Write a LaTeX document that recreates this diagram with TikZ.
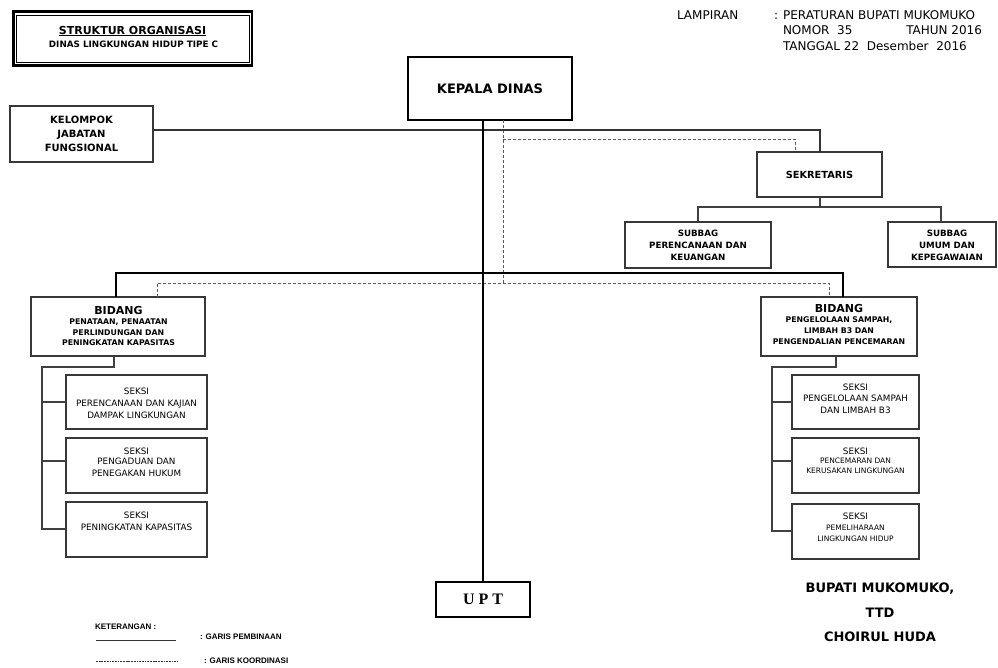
\documentclass[tikz,border=0pt]{standalone}
\usepackage{fontspec}
\setmainfont{DejaVu Sans}
\newfontfamily\serifb{Liberation Serif}
\newfontfamily\arialf{Liberation Sans}
\newcommand\myfs[2]{\fontsize{#1}{#2}\selectfont}
\begin{document}
\begin{tikzpicture}[x=1pt,y=-1pt,
  box/.style={draw=black!78, line width=1.1pt, inner sep=0pt, outer sep=0pt, anchor=north west, align=center},
  txt/.style={inner sep=0pt, outer sep=0pt, align=center},
  thickl/.style={line width=2.8pt, black},
  midl/.style={line width=1.5pt, black!80},
  thinl/.style={line width=1.1pt, black!75},
  dashl/.style={line width=0.8pt, black!65, dash pattern=on 3pt off 2pt},
  legf/.style={txt, anchor=west, font=\arialf\bfseries\myfs{8}{9}},
  lampf/.style={txt, font=\myfs{12}{14}},
  sks/.style={txt, font=\myfs{8.8}{12}}
]
\useasboundingbox (0,0) rectangle (998,667);

% title
\node[box, draw=black, line width=2.8pt, minimum width=238.7pt, minimum height=53.8pt] (tbox) at (13.3,11.7) {};
\draw[line width=0.8pt] ([xshift=3.1pt,yshift=-3.2pt]tbox.north west) rectangle ([xshift=-3.1pt,yshift=3.1pt]tbox.south east);
\node[txt, font=\myfs{11}{13}\bfseries] (ttl) at (132.5,31) {\underline{STRUKTUR ORGANISASI}};
\node[txt, font=\myfs{8.8}{10}\bfseries] (tsub) at (133.5,44) {DINAS LINGKUNGAN HIDUP TIPE C};

% lampiran
\node[lampf, anchor=west] (lamp) at (677,15) {LAMPIRAN};
\node[lampf, anchor=west] (lp1) at (774,15) {: PERATURAN BUPATI MUKOMUKO};
\node[lampf, anchor=west] (lp2) at (783,30) {NOMOR\ \ 35};
\node[lampf, anchor=east] (lp3) at (982,30) {TAHUN 2016};
\node[lampf, anchor=west] (lp4) at (783,46) {TANGGAL 22\ \ Desember\ \ 2016};

% boxes
\node[box, draw=black, line width=1.8pt, minimum width=164pt, minimum height=63pt, font=\myfs{13}{15}\bfseries] (kd) at (408,57) {KEPALA DINAS};
\node[box, minimum width=143pt, minimum height=56pt, font=\myfs{10}{14}\bfseries] (kjf) at (10,106) {KELOMPOK\\JABATAN\\FUNGSIONAL};
\node[box, minimum width=125pt, minimum height=45pt, font=\myfs{9.8}{12}\bfseries] (sek) at (757,152) {SEKRETARIS};
\node[box, minimum width=146pt, minimum height=46pt, font=\myfs{8.7}{12}\bfseries] (sp) at (625,222) {SUBBAG\\PERENCANAAN DAN\\KEUANGAN};
\node[box, minimum width=108pt, minimum height=45pt] (su) at (888,222) {};
\node[txt, font=\myfs{8.7}{12}\bfseries] (sut) at (947,245) {SUBBAG\\UMUM DAN\\KEPEGAWAIAN};

\node[box, minimum width=174pt, minimum height=59pt] (bl) at (31,297) {};
\node[txt, font=\myfs{11}{13}\bfseries] (blt) at (118.5,310) {BIDANG};
\node[txt, font=\myfs{7.8}{10.5}\bfseries] (bls) at (118.5,332.5) {PENATAAN, PENAATAN\\PERLINDUNGAN DAN\\PENINGKATAN KAPASITAS};

\node[box, minimum width=156pt, minimum height=59pt] (br) at (761,297) {};
\node[txt, font=\myfs{11}{13}\bfseries] (brt) at (839,308) {BIDANG};
\node[txt, font=\myfs{7.8}{11}\bfseries] (brs) at (839,331) {PENGELOLAAN SAMPAH,\\LIMBAH B3 DAN\\PENGENDALIAN PENCEMARAN};

% seksi left
\node[box, minimum width=141pt, minimum height=54pt] (sk1) at (66,375) {};
\node[sks] (sk1t) at (136.5,391) {SEKSI};
\node[sks] (sk1b) at (136.5,409) {PERENCANAAN DAN KAJIAN\\DAMPAK LINGKUNGAN};
\node[box, minimum width=141pt, minimum height=55pt] (sk2) at (66,438) {};
\node[sks] (sk2t) at (136.5,451) {SEKSI};
\node[sks, font=\myfs{8.8}{11.5}] (sk2b) at (136.5,467.5) {PENGADUAN DAN\\PENEGAKAN HUKUM};
\node[box, minimum width=141pt, minimum height=55pt] (sk3) at (66,502) {};
\node[sks] (sk3t) at (136.5,515) {SEKSI};
\node[sks] (sk3b) at (136.5,527) {PENINGKATAN KAPASITAS};

% seksi right
\node[box, minimum width=127pt, minimum height=54pt] (sr1) at (792,375) {};
\node[sks] (sr1t) at (855.5,387) {SEKSI};
\node[sks] (sr1b) at (855.5,404.7) {PENGELOLAAN SAMPAH\\DAN LIMBAH B3};
\node[box, minimum width=127pt, minimum height=55pt] (sr2) at (792,438) {};
\node[sks] (sr2t) at (855.5,451) {SEKSI};
\node[sks, font=\myfs{7.5}{10}] (sr2b) at (855.5,466) {PENCEMARAN DAN\\KERUSAKAN LINGKUNGAN};
\node[box, minimum width=127pt, minimum height=55pt] (sr3) at (792,504) {};
\node[sks] (sr3t) at (855.5,516) {SEKSI};
\node[sks, font=\myfs{7.5}{11}] (sr3b) at (855.5,533.5) {PEMELIHARAAN\\LINGKUNGAN HIDUP};

% UPT
\node[box, draw=black, line width=1.8pt, minimum width=94pt, minimum height=35pt, font=\serifb\bfseries\myfs{16}{18}] (upt) at (436,582) {U\ P\ T};

% signature
\node[txt, font=\myfs{13}{24.5}\bfseries] (bpt) at (880,612.5) {BUPATI MUKOMUKO,\\TTD\\CHOIRUL HUDA};

% coordinates
\coordinate (jk) at (820,130);
\coordinate (dA) at (503,139);
\coordinate (dB) at (503,283);
\coordinate (dS) at (795,139);
\coordinate (dl) at (157,283);
\coordinate (dr) at (829,283);
\coordinate (tl) at (116,273);
\coordinate (tr) at (843,273);
\coordinate (sj) at (820,207);
\coordinate (sx) at (941,207);
\coordinate (la) at (114,367);
\coordinate (lc) at (42,367);
\coordinate (ld) at (42,529);
\coordinate (lx1) at (42,402);
\coordinate (lx2) at (42,461);
\coordinate (ra) at (836,367);
\coordinate (rc) at (772,367);
\coordinate (rd) at (772,531);
\coordinate (rx1) at (772,402);
\coordinate (rx2) at (772,461);

% garis koordinasi
\draw[dashl] (kd.south -| dA) -- (dB);
\draw[dashl] (dA) -- (dS) -- (sek.north -| dS);
\draw[dashl] (bl.north -| dl) -- (dl) -- (dr) -- (br.north -| dr);

% garis pembinaan
\draw[midl] ([yshift=4pt]kjf.east) -- (jk) -- (sek.north -| jk);
\draw[thickl] (upt.north) -- (upt.north |- kd.south);
\draw[thickl] (bl.north -| tl) -- (tl) -- (tr) -- (br.north -| tr);
\draw[thinl] (sek.south -| sj) -- (sj);
\draw[thinl] (sp.north) |- (sj) -- (sx) -- (su.north -| sx);
\draw[thinl] (bl.south -| la) -- (la) -- (lc) -- (ld) -- (ld -| sk3.west);
\draw[thinl] (lx1) -- (lx1 -| sk1.west);
\draw[thinl] (lx2) -- (lx2 -| sk2.west);
\draw[thinl] (br.south -| ra) -- (ra) -- (rc) -- (rd) -- (rd -| sr3.west);
\draw[thinl] (rx1) -- (rx1 -| sr1.west);
\draw[thinl] (rx2) -- (rx2 -| sr2.west);

% legend
\node[legf] (ket) at (95,627) {KETERANGAN :};
\coordinate (g1a) at (96,640);
\coordinate (g1b) at (176,640);
\coordinate (g2a) at (96,661);
\coordinate (g2b) at (178,661);
\draw[line width=0.9pt, black!80] (g1a) -- (g1b);
\draw[line width=0.9pt, black!80, dash pattern=on 1.8pt off 0.9pt] (g2a) -- (g2b);
\node[legf] (gp) at (200,637) {: GARIS PEMBINAAN};
\node[legf] (gk) at (204,661) {: GARIS KOORDINASI};
\end{tikzpicture}
\end{document}
